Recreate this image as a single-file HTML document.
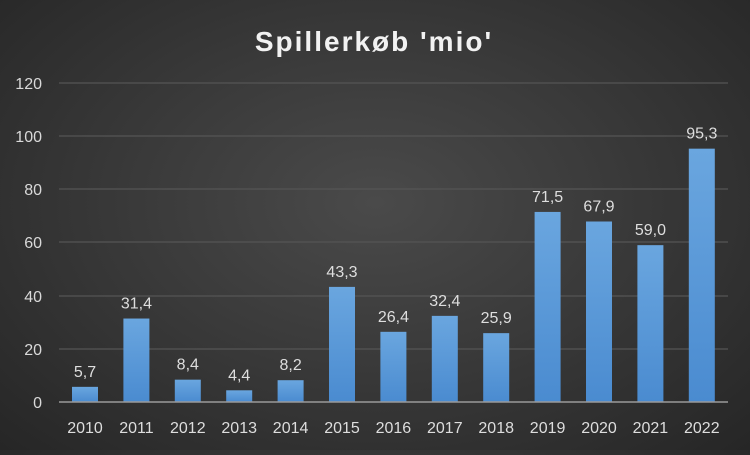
<!DOCTYPE html>
<html><head><meta charset="utf-8"><style>
html,body{margin:0;padding:0}
body{width:750px;height:450px;overflow:hidden;background:radial-gradient(ellipse at 50% 45%,#4a4a4a 0%,#3a3a3a 45%,#262626 100%);font-family:"Liberation Sans",sans-serif}
</style></head><body>
<svg width="750" height="450" xmlns="http://www.w3.org/2000/svg">
<defs><linearGradient id="g" x1="0" y1="0" x2="0" y2="1"><stop offset="0" stop-color="#6aa6df"/><stop offset="1" stop-color="#4a8bd0"/></linearGradient></defs>
<text x="374" y="51" text-anchor="middle" fill="#f2f2f2" font-size="28" font-weight="bold" letter-spacing="2" font-family="Liberation Sans,sans-serif">Spillerkøb 'mio'</text>
<g stroke="#555" stroke-width="1.3">
<line x1="59" x2="728" y1="83" y2="83"/><line x1="59" x2="728" y1="136" y2="136"/><line x1="59" x2="728" y1="189" y2="189"/><line x1="59" x2="728" y1="242" y2="242"/><line x1="59" x2="728" y1="296" y2="296"/><line x1="59" x2="728" y1="349" y2="349"/>
</g>
<g fill="#d9d9d9" font-size="16" text-anchor="end" font-family="Liberation Sans,sans-serif">
<text x="42" y="89">120</text><text x="42" y="142">100</text><text x="42" y="195">80</text><text x="42" y="248">60</text><text x="42" y="302">40</text><text x="42" y="355">20</text><text x="42" y="408">0</text>
</g>
<g id="bars" fill="url(#g)"></g>
<line x1="59" x2="728" y1="402" y2="402" stroke="#9a9a9a" stroke-width="1.5"/>
<g id="lbl" fill="#dedede" font-size="16" text-anchor="middle" font-family="Liberation Sans,sans-serif"></g>
</svg>
<script>
var v=[5.7,31.4,8.4,4.4,8.2,43.3,26.4,32.4,25.9,71.5,67.9,59.0,95.3];
var b=document.getElementById('bars'),l=document.getElementById('lbl'),ns='http://www.w3.org/2000/svg';
v.forEach(function(d,i){var cx=85+i*51.4,h=d*319/120,y=402-h;
var r=document.createElementNS(ns,'rect');r.setAttribute('x',cx-13);r.setAttribute('y',y);r.setAttribute('width',26);r.setAttribute('height',h);b.appendChild(r);
var t=document.createElementNS(ns,'text');t.setAttribute('x',cx);t.setAttribute('y',y-10);t.textContent=d.toFixed(1).replace('.',',');l.appendChild(t);
var t2=document.createElementNS(ns,'text');t2.setAttribute('x',cx);t2.setAttribute('y',433);t2.textContent=2010+i;l.appendChild(t2);});
</script>
</body></html>
